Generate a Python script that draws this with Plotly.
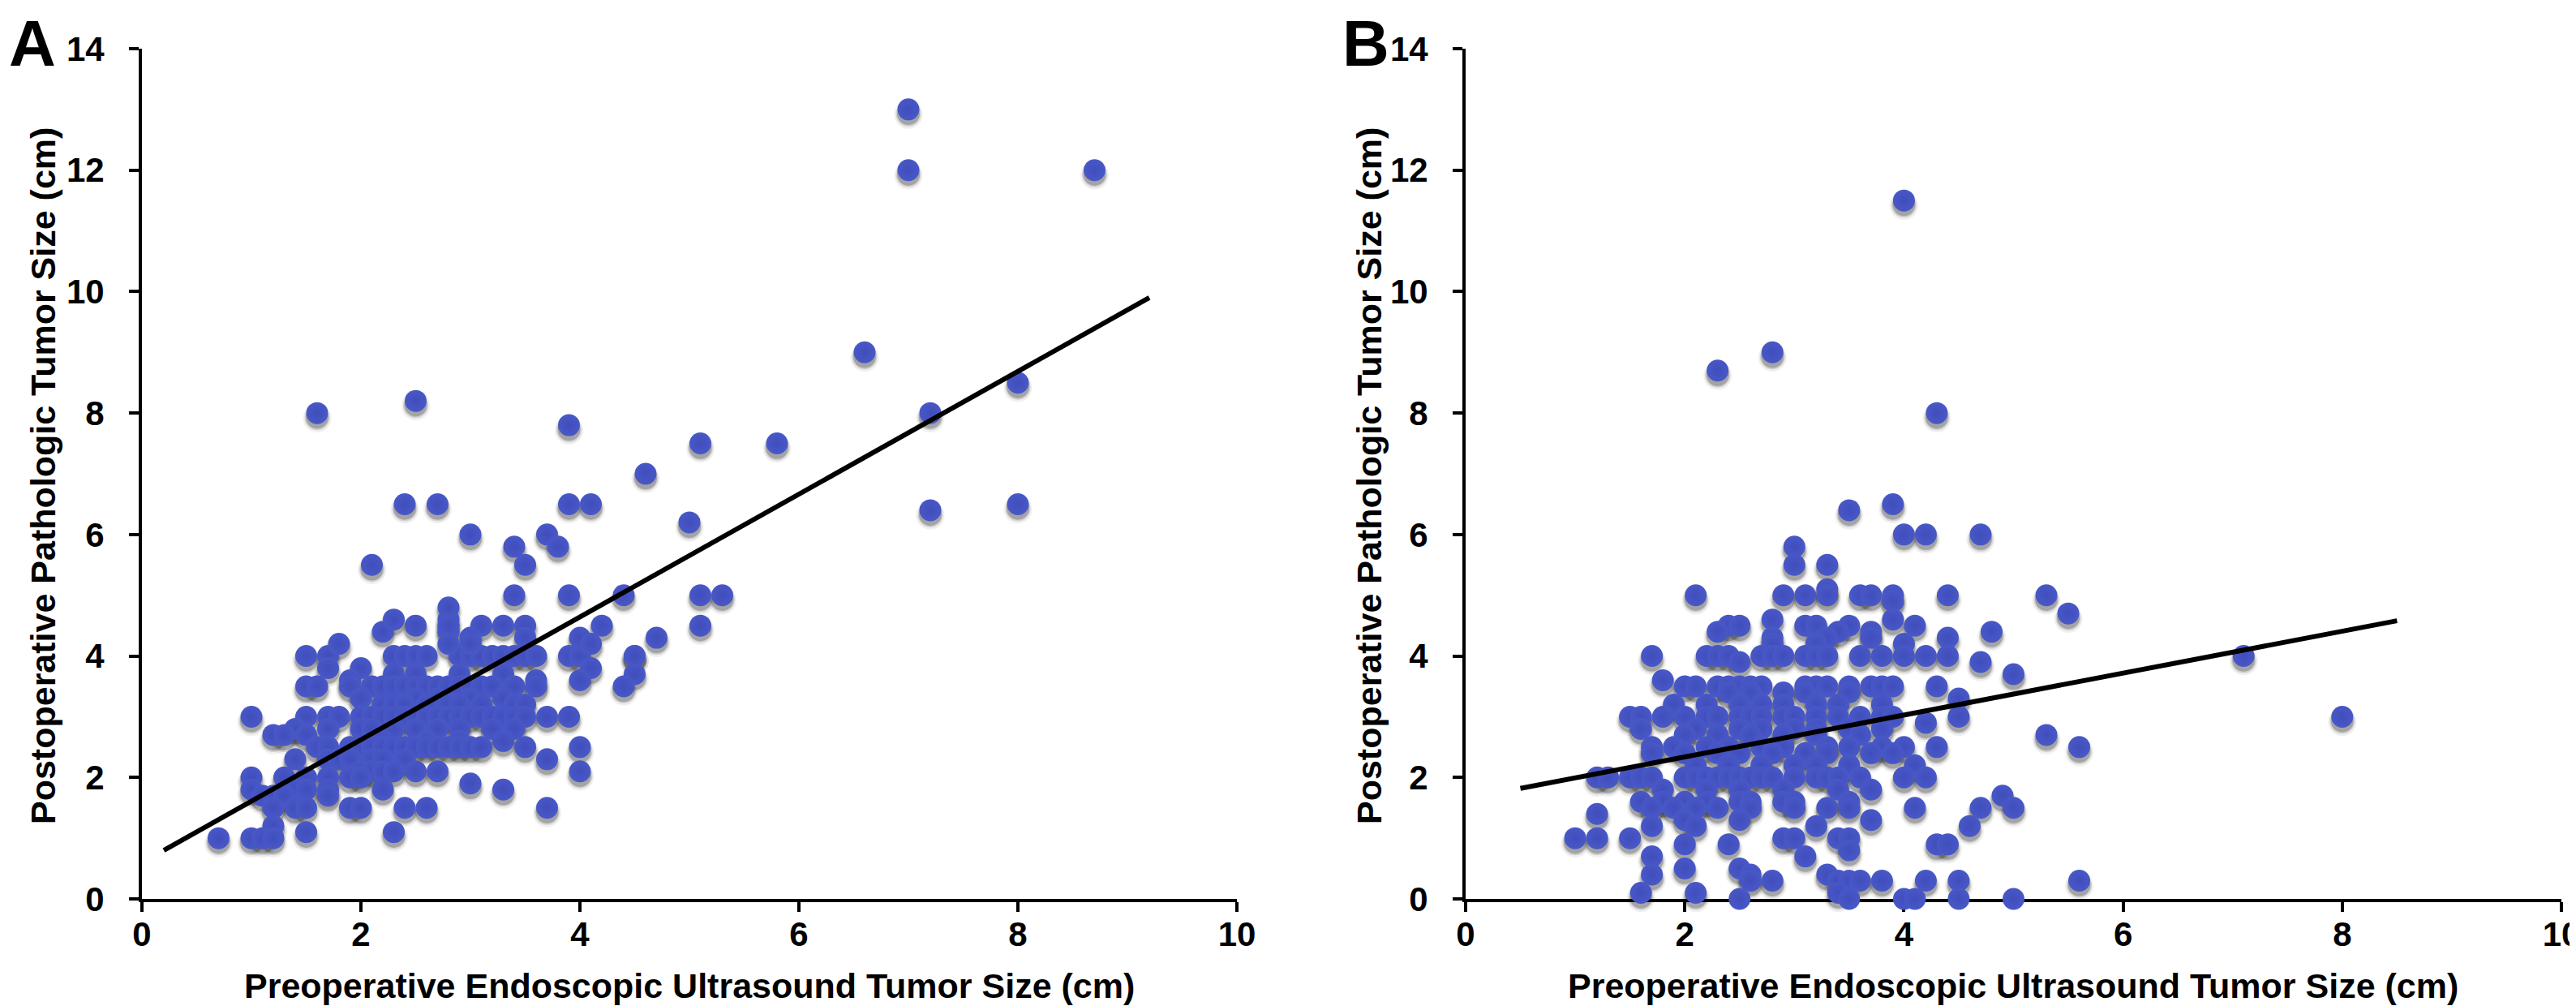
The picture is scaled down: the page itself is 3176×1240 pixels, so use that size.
import plotly.graph_objects as go

# ---------------- Panel A data (pre-op EUS size vs post-op pathologic size) ----------------
a_rows = {
    4.0: [1.5, 1.7, 2.3, 2.4, 2.5, 2.6, 2.9, 3.0, 3.1, 3.2, 3.3, 3.4, 3.5, 3.6, 3.9, 4.0, 4.5],
    4.4: [2.2, 2.8], 4.6: [2.3, 2.8], 4.8: [2.8],
    4.5: [2.5, 2.8, 3.1, 3.3, 3.5, 4.2],
    4.3: [3.0, 3.5, 4.0, 4.7],
    4.2: [1.8, 2.8, 3.0, 4.1],
    3.8: [1.7, 2.0, 4.1],
    3.7: [2.3, 2.5, 2.9, 3.3, 4.5],
    3.6: [1.9, 3.6, 4.0],
    3.5: [1.5, 1.6, 1.9, 2.1, 2.2, 2.3, 2.4, 2.5, 2.6, 2.7, 2.8, 2.9, 3.0, 3.1, 3.2, 3.4, 3.6, 4.4],
    3.3: [2.0, 2.5, 2.7, 3.0, 3.3],
    3.2: [2.2, 2.3, 2.4, 2.6, 2.8, 2.9, 3.1, 3.4, 3.5],
    3.0: [1.0, 1.5, 1.7, 1.8, 2.0, 2.1, 2.2, 2.3, 2.4, 2.5, 2.6, 2.7, 2.8, 2.9, 3.0, 3.1, 3.2,
          3.3, 3.4, 3.5, 3.7, 3.9],
    2.8: [1.4, 1.7, 2.0, 2.1, 2.3, 2.5, 2.7, 2.9, 3.2, 3.4],
    2.7: [1.2, 1.3, 1.5],
    2.6: [2.2, 2.6, 2.9, 3.3],
    2.5: [1.6, 1.7, 1.9, 2.0, 2.1, 2.2, 2.3, 2.4, 2.5, 2.6, 2.7, 2.8, 2.9, 3.0, 3.1, 3.5, 4.0],
    2.3: [1.4, 1.7, 1.8, 1.9, 2.1, 2.2, 2.4, 3.7],
    2.1: [2.0, 2.1, 2.2, 2.3, 2.5, 2.7, 4.0],
    2.0: [1.0, 1.3, 1.5, 1.7, 1.9, 2.0],
    1.9: [3.0],
    1.8: [1.0, 1.4, 1.5, 1.7, 2.2, 3.3],
    1.7: [1.1, 1.2, 1.3, 1.7],
    1.5: [1.2, 1.4, 1.5, 1.9, 2.0, 2.4, 2.6, 3.7],
    1.2: [1.2],
    1.1: [1.5, 2.3],
    1.0: [0.7, 1.0, 1.1, 1.2],
}
a_outlier_x = [1.6, 2.5, 3.9, 2.4, 2.7, 3.0, 2.1, 3.4, 3.5, 3.7, 3.8, 3.9, 4.1, 3.4, 3.9, 4.4,
               4.6, 5.0, 5.1, 5.8, 5.1, 5.3, 5.1, 4.5, 6.6, 7.0, 7.0, 8.7, 7.2, 8.0, 7.2, 8.0]
a_outlier_y = [8.0, 8.2, 7.8, 6.5, 6.5, 6.0, 5.5, 5.8, 5.5, 6.0, 5.8, 6.5, 6.5, 5.0, 5.0, 5.0,
               7.0, 6.2, 7.5, 7.5, 5.0, 5.0, 4.5, 4.0, 9.0, 13.0, 12.0, 12.0, 8.0, 8.5, 6.4, 6.5]
a_trend_x = [0.2, 9.2]
a_trend_y = [0.8, 9.9]

# ---------------- Panel B data ----------------
b_rows = {
    11.5: [4.0], 9.0: [2.8], 8.7: [2.3], 8.0: [4.3],
    6.5: [3.9], 6.4: [3.5], 6.0: [4.0, 4.2, 4.7], 5.8: [3.0], 5.5: [3.0, 3.3], 5.1: [3.3],
    5.0: [2.1, 2.9, 3.1, 3.3, 3.6, 3.7, 3.9, 4.4, 5.3],
    4.9: [3.9], 4.7: [5.5], 4.6: [2.8, 3.9],
    4.5: [2.4, 2.5, 3.1, 3.2, 3.5, 4.1],
    4.4: [2.3, 3.4, 3.7, 4.8],
    4.3: [2.8, 3.3, 3.7, 4.4],
    4.2: [2.8, 3.2, 4.0],
    4.0: [1.7, 2.2, 2.3, 2.4, 2.7, 2.8, 2.9, 3.1, 3.2, 3.3, 3.6, 3.8, 4.0, 4.2, 4.4, 7.1],
    3.9: [2.5, 4.7], 3.7: [5.0], 3.6: [1.8],
    3.5: [2.0, 2.1, 2.3, 2.4, 2.5, 2.6, 2.7, 3.1, 3.2, 3.3, 3.5, 3.7, 3.8, 3.9, 4.3],
    3.4: [2.4, 2.6, 2.9, 3.1, 3.5], 3.3: [4.5],
    3.2: [1.9, 2.2, 2.5, 2.7, 2.9, 3.2, 3.4, 3.8],
    3.0: [1.5, 1.6, 1.8, 2.0, 2.2, 2.3, 2.5, 2.6, 2.7, 2.9, 3.0, 3.2, 3.4, 3.6, 3.8, 3.9, 4.5, 8.0],
    2.9: [4.2],
    2.8: [1.6, 2.1, 2.5, 2.7, 3.0, 3.2, 3.5, 3.8],
    2.7: [2.0, 2.3, 2.6, 2.9, 3.2, 3.6, 5.3],
    2.5: [1.7, 1.9, 2.2, 2.4, 2.7, 2.9, 3.3, 3.5, 3.8, 4.0, 4.3, 5.6],
    2.4: [1.7, 2.0, 2.3, 2.5, 2.8, 3.1, 3.3, 3.7, 3.9],
    2.2: [2.1, 2.4, 2.7, 3.0, 3.2, 3.5, 4.1],
    2.0: [1.2, 1.3, 1.5, 1.6, 1.7, 2.0, 2.1, 2.2, 2.3, 2.4, 2.5, 2.6, 2.7, 2.8, 3.0, 3.2, 3.3,
          3.4, 3.6, 4.0, 4.2],
    1.8: [1.8, 2.2, 2.5, 2.9, 3.4, 3.7],
    1.7: [4.9],
    1.6: [1.6, 1.8, 2.0, 2.2, 2.5, 2.6, 2.9, 3.0, 3.5],
    1.5: [1.7, 1.9, 2.1, 2.3, 2.6, 3.0, 3.3, 3.5, 4.1, 4.7, 5.0],
    1.4: [1.2],
    1.3: [2.0, 2.5, 3.7],
    1.2: [1.7, 2.1, 3.2, 4.6],
    1.0: [1.0, 1.2, 1.5, 2.9, 3.0, 3.4, 3.5],
    0.9: [2.0, 2.4, 4.3, 4.4],
    0.8: [3.5], 0.7: [1.7, 3.1],
    0.5: [2.0, 2.5],
    0.4: [1.7, 2.6, 3.3],
    0.3: [2.6, 2.8, 3.4, 3.5, 3.6, 3.8, 4.2, 4.5, 5.6],
    0.1: [1.6, 2.1, 3.4],
    0.0: [2.5, 3.5, 4.0, 4.1, 4.5, 5.0],
}
b_trend_x = [0.5, 8.5]
b_trend_y = [1.82, 4.58]

x_ticks = [0, 2, 4, 6, 8, 10]
y_ticks = [0, 2, 4, 6, 8, 10, 12, 14]
x_title = "Preoperative Endoscopic Ultrasound Tumor Size (cm)"
y_title = "Postoperative Pathologic Tumor Size (cm)"
panel_labels = ["A", "B"]


def flatten(rows):
    xs, ys = [], []
    for yv, xl in rows.items():
        for xv in xl:
            xs.append(xv)
            ys.append(yv)
    return xs, ys


ax, ay = flatten(a_rows)
ax += a_outlier_x
ay += a_outlier_y
bx, by = flatten(b_rows)

MARK = "rgb(72,88,198)"
FONT = "Liberation Sans, Arial, sans-serif"

fig = go.Figure()


def add_panel(xs, ys, tx, ty, xa, ya):
    # soft drop shadow (drawn under the dots), layered to imitate a blur
    for size, alpha, dy in [(35, 0.06, 0.085), (31, 0.12, 0.075), (28, 0.22, 0.07)]:
        fig.add_trace(go.Scatter(x=xs, y=[v - dy for v in ys], mode="markers", xaxis=xa, yaxis=ya,
                                 marker=dict(size=size, color=f"rgba(0,0,0,{alpha})", line=dict(width=0)),
                                 cliponaxis=False, hoverinfo="skip", showlegend=False))
    fig.add_trace(go.Scatter(x=xs, y=ys, mode="markers", xaxis=xa, yaxis=ya,
                             marker=dict(size=27, color=MARK, line=dict(width=0),
                                         gradient=dict(type="radial", color="rgb(64,78,188)")),
                             cliponaxis=False, showlegend=False))
    fig.add_trace(go.Scatter(x=tx, y=ty, mode="lines", xaxis=xa, yaxis=ya,
                             line=dict(color="black", width=6), cliponaxis=False, showlegend=False))


add_panel(ax, ay, a_trend_x, a_trend_y, "x", "y")
add_panel(bx, by, b_trend_x, b_trend_y, "x2", "y2")

W, H = 3176, 1240
ydom = [140 / H, 1188 / H]
axis_common = dict(showgrid=False, zeroline=False, showline=True, linecolor="black", linewidth=4,
                   ticks="outside", ticklen=12, tickwidth=4, tickcolor="black", automargin=False,
                   tickfont=dict(family=FONT, size=42, color="black", weight="bold"),
                   layer="below traces")

fig.update_layout(
    width=W, height=H, margin=dict(l=0, r=0, t=0, b=0, pad=0, autoexpand=False),
    paper_bgcolor="white", plot_bgcolor="white", showlegend=False,
    xaxis=dict(domain=[167 / W, 1517 / W], range=[0, 10], tickvals=x_ticks, anchor="y",
               ticklabelstandoff=-8, **axis_common),
    yaxis=dict(domain=ydom, range=[0, 14], tickvals=y_ticks, anchor="x",
               ticklabelstandoff=22, **axis_common),
    xaxis2=dict(domain=[1799 / W, 3150 / W], range=[0, 10], tickvals=x_ticks, anchor="y2",
                ticklabelstandoff=-8, **axis_common),
    yaxis2=dict(domain=ydom, range=[0, 14], tickvals=y_ticks, anchor="x2",
                ticklabelstandoff=22, **axis_common),
)

title_font = dict(family=FONT, size=43, color="black", weight="bold")
ann = []
for cx, yx, lx, lab in [(842, 45, 2, panel_labels[0]), (2474, 1680, 1646, panel_labels[1])]:
    ann.append(dict(text=x_title, x=cx / W, y=(H - 1207) / H, xref="paper", yref="paper",
                    xanchor="center", yanchor="middle", showarrow=False, font=title_font))
    ann.append(dict(text=y_title, x=yx / W, y=(H - 579) / H, xref="paper", yref="paper",
                    xanchor="center", yanchor="middle", textangle=-90, showarrow=False,
                    font=title_font))
    ann.append(dict(text=lab, x=lx / W, y=1, xref="paper", yref="paper",
                    xanchor="left", yanchor="top", showarrow=False, borderpad=0,
                    font=dict(family=FONT, size=80, color="black", weight="bold")))
fig.update_layout(annotations=ann)

fig.write_html("out.html")
